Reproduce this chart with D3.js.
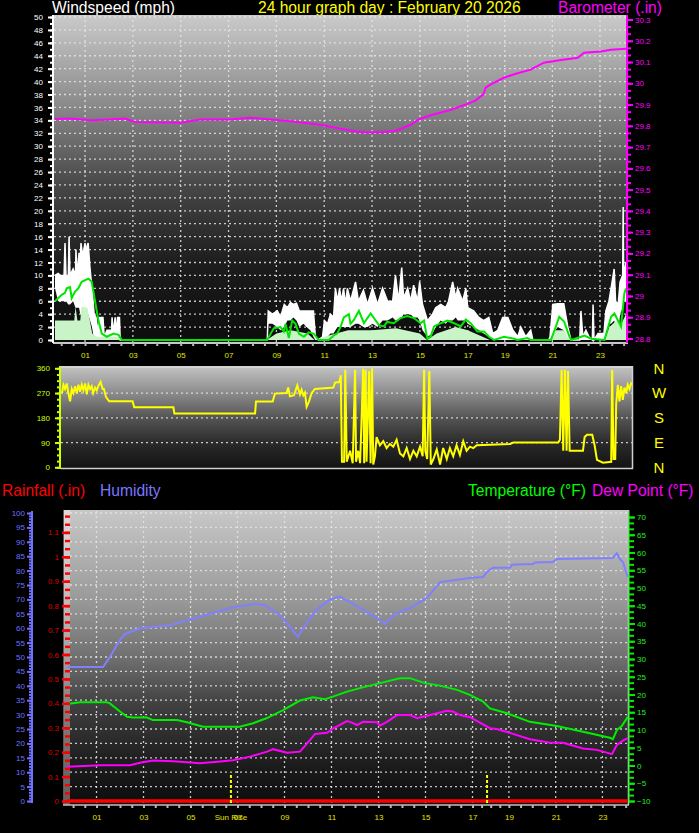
<!DOCTYPE html>
<html><head><meta charset="utf-8">
<script src="https://cdn.jsdelivr.net/npm/d3@7/dist/d3.min.js"></script>
<style>body{margin:0;background:#000;}svg{display:block;font-family:"Liberation Sans",Arial,sans-serif;}</style>
</head><body><svg id="c" width="699" height="833"></svg>
<script>
// ---------------- DATA ----------------
const titleDate = "24 hour graph day : February 20 2026";
const hourTicks = [1,3,5,7,9,11,13,15,17,19,21,23];
const hourLabels = ["01","03","05","07","09","11","13","15","17","19","21","23"];
// time axis knots (hours) – the record-based axis is compressed between 17 and 19
const timeKnots = [-0.26, 1, 17, 19, 23, 24.1];

// wind gust band [hour, low, high] (mph)
const windGust = [[-0.26,8,10],[-0.13,6,10.3],[-0.04,6,10],[0.12,6,10],[0.16,6,15],[0.2,6,10],[0.3,5.5,10],[0.33,5.5,16],[0.37,5.5,10],[0.5,6,11],[0.6,5,10],[0.62,5,14],[0.66,5,10],[0.75,5,13.5],[0.8,4,12],[0.83,4,15],[0.9,4,13],[1.0,4,15],[1.05,4,13],[1.08,4,14.5],[1.13,4,15],[1.21,3,11],[1.29,2,8],[1.38,0,4],[1.46,0,3.5],[1.55,0,1],[1.6,0,3.5],[1.75,0,3.5],[1.8,0,0.5],[1.92,0,1.5],[2.05,0,1.5],[2.1,0,0.5],[2.13,0,3.5],[2.18,0,1],[2.26,0,3.5],[2.3,0,1],[2.36,0,3.5],[2.44,0,3.5],[2.47,0,0],[8.62,0,0],[8.66,2.5,4.5],[8.83,2.5,4],[9.04,2,4.5],[9.17,1.5,3.5],[9.33,2,5.5],[9.46,3,5],[9.59,3,5.8],[9.71,3.5,5.5],[9.84,3,5.7],[9.96,2,4.5],[10.13,2.5,4.5],[10.26,2,4.5],[10.42,1.5,4.5],[10.55,0.5,4.5],[10.63,0,0.5],[10.76,0,0],[10.93,0,0.5],[11.01,0,3],[11.14,0.5,2.5],[11.26,1,4],[11.39,1,3.5],[11.47,1.5,8],[11.56,2,6],[11.64,2,8],[11.72,2,6],[11.81,2,8],[11.89,2,5.5],[11.97,2,8],[12.1,2,6],[12.31,2.5,9],[12.43,2.5,6],[12.64,2,7.7],[12.81,2,5.5],[13.02,2.5,8],[13.23,2,5.5],[13.44,3,8],[13.65,3,6],[13.86,3.5,6],[13.98,3,10],[14.11,3,6],[14.24,3.5,11.2],[14.32,4,6.5],[14.49,4,8],[14.61,4,6],[14.74,3.5,8.5],[14.9,3.5,6],[14.99,3,9],[15.11,1.5,5.5],[15.32,0.5,3],[15.53,1,4],[15.66,2,5],[15.87,3,5.5],[16.08,2.5,5],[16.2,3,6],[16.37,3,9],[16.5,3.5,6.5],[16.58,3,8],[16.79,3,6],[16.92,3,8],[17.0,2.5,5],[17.32,2,4.5],[17.6,1.5,3.5],[17.86,1,3],[18.14,0.5,3.5],[18.35,0,1],[18.62,0,1.5],[18.89,0,3.5],[19.13,0,3.5],[19.34,0,1.5],[19.55,0,0.5],[19.67,0,2],[19.88,0,0.5],[20.09,0,1.5],[20.18,0,0],[20.85,0,0],[20.9,0,0.5],[21.02,1,5.5],[21.23,2,5.6],[21.48,1.5,5.6],[21.65,0,2],[21.78,0,0],[22.15,0,0],[22.2,0,4.5],[22.28,0,0.5],[22.41,0,1.5],[22.54,0,0.5],[22.68,0,0],[22.71,0,5.5],[22.75,0,0],[22.92,0,1],[23.17,0,1],[23.25,1,4.5],[23.38,2.5,6],[23.47,2.5,8],[23.6,3,11],[23.66,2,6],[23.77,1,5.5],[23.85,4,9],[23.96,5,10],[23.98,5,20.6],[24.0,6,10],[24.1,6,12]];
// wind speed [hour, mph]
const windSpeed = [[-0.26,3],[0.55,3],[0.6,5.2],[0.68,3],[0.8,3],[0.85,5.2],[1.1,5],[1.2,3],[1.3,1],[1.5,0.5],[2.4,0.5],[2.5,0],[8.6,0],[8.8,0.5],[9.0,1],[9.6,1.5],[10.3,1],[10.6,0],[11.0,0.5],[11.5,1],[12,1.5],[13,1.5],[14,1.8],[15,1],[15.3,0],[15.7,1],[16.5,2],[17,1.5],[17.8,0.5],[18.2,0],[20.9,0],[21.1,1.5],[21.5,1.5],[21.7,0],[23.2,0],[23.4,2],[23.7,3],[23.9,2.5],[24.1,4]];
// average wind speed [hour, mph]
const windAvg = [[-0.26,6],[0.02,7],[0.16,7.3],[0.23,8],[0.37,8.2],[0.44,6.5],[0.58,7.5],[0.72,8],[0.86,9],[1.14,9.5],[1.28,9],[1.42,6],[1.56,3],[1.7,1],[1.91,0.5],[2.19,1],[2.4,0.8],[2.54,0],[8.61,0],[8.89,1.8],[9.17,2],[9.31,1.3],[9.38,2.5],[9.52,0.3],[9.66,3],[9.8,2.5],[9.94,1],[10.15,0.5],[10.35,1.2],[10.56,1],[10.77,0],[11.19,0],[11.4,0.7],[11.54,1],[11.68,2],[11.82,3.5],[12.03,4],[12.1,2.5],[12.24,3.1],[12.45,4.5],[12.66,2.6],[12.94,4.1],[13.29,2.3],[13.5,2.1],[13.63,2.8],[13.91,2.6],[14.19,3.4],[14.47,3.7],[14.75,3.4],[15.03,2.6],[15.17,3],[15.31,0.2],[15.45,0.5],[15.59,2.1],[15.87,2.6],[16.15,3],[16.43,2.6],[16.71,2.1],[16.92,3.2],[17.16,2.6],[17.52,1.3],[17.88,1.3],[18.15,0.5],[18.42,0],[18.96,0.5],[19.39,0.2],[19.53,0],[19.96,0.3],[20.09,0],[20.94,0],[21.15,2.1],[21.29,3.6],[21.5,2.8],[21.72,0.5],[21.79,0],[22.21,0.5],[22.35,0.7],[22.63,0.2],[23.19,0],[23.47,3.6],[23.61,4.1],[23.75,3.1],[23.89,2.1],[24.03,7.2],[24.1,8]];
// barometer [hour, in]
const barometer = [[-0.26,29.832],[0.37,29.835],[1.21,29.826],[2.05,29.83],[2.68,29.834],[3.09,29.818],[4.98,29.815],[5.82,29.83],[7.07,29.83],[7.91,29.838],[8.75,29.83],[9.59,29.822],[10.84,29.805],[11.68,29.786],[12.52,29.77],[13.36,29.77],[13.98,29.776],[14.61,29.805],[14.95,29.83],[15.45,29.85],[16.29,29.875],[16.92,29.9],[17.43,29.92],[17.86,29.95],[17.97,29.98],[18.24,29.995],[18.95,30.026],[19.46,30.045],[20.09,30.064],[20.64,30.097],[21.36,30.11],[22.07,30.12],[22.33,30.144],[23.04,30.15],[23.46,30.158],[24.1,30.163]];
// wind direction [hour, degrees]
const windDir = [[-0.26,270],[-0.2,300],[-0.13,285],[-0.06,305],[0.01,270],[0.08,240],[0.15,285],[0.22,270],[0.29,295],[0.36,270],[0.43,300],[0.5,275],[0.57,300],[0.64,280],[0.71,305],[0.78,265],[0.85,300],[0.92,285],[0.99,295],[1.05,270],[1.13,290],[1.2,280],[1.26,295],[1.36,310],[1.45,285],[1.5,285],[1.59,255],[1.72,240],[2.7,240],[2.77,218],[4.41,218],[4.45,196],[7.83,196],[7.87,239],[8.57,239],[8.66,268],[9.15,270],[9.22,290],[9.29,258],[9.46,262],[9.6,298],[9.71,265],[9.78,282],[9.85,262],[9.92,272],[9.99,220],[10.09,240],[10.2,270],[10.34,285],[11.11,290],[11.18,308],[11.36,310],[11.42,335],[11.47,20],[11.56,20],[11.61,355],[11.67,20],[11.81,60],[11.92,15],[12.02,355],[12.06,20],[12.15,60],[12.23,15],[12.36,358],[12.4,15],[12.46,355],[12.5,20],[12.61,350],[12.67,15],[12.73,360],[12.78,10],[12.85,40],[12.92,110],[13.06,80],[13.2,95],[13.34,70],[13.48,85],[13.62,75],[13.76,100],[13.9,50],[14.04,40],[14.18,70],[14.32,30],[14.46,60],[14.6,40],[14.74,75],[14.85,40],[14.91,355],[14.96,60],[15.04,30],[15.13,350],[15.19,10],[15.3,30],[15.44,65],[15.58,10],[15.71,70],[15.86,30],[15.99,70],[16.13,40],[16.27,80],[16.41,45],[16.55,95],[16.69,60],[16.83,75],[16.97,70],[17.15,80],[17.86,82],[18.95,85],[19.1,90],[20.99,90],[21.06,100],[21.13,355],[21.2,60],[21.27,355],[21.34,60],[21.4,350],[21.47,60],[22.03,60],[22.1,110],[22.2,118],[22.42,118],[22.52,80],[22.62,27],[22.87,17],[23.22,20],[23.26,355],[23.32,30],[23.39,30],[23.43,230],[23.5,300],[23.57,240],[23.64,295],[23.71,245],[23.78,290],[23.85,270],[23.92,300],[23.99,285],[24.06,305],[24.1,300]];
const dirTicks = [0,90,180,270,360];
const compass = ["N","E","S","W","N"];
// humidity [hour, %]
const humidity = [[-0.26,46.5],[1.28,46.5],[1.57,50],[2.0,56],[2.21,58],[2.85,60],[4.13,61],[5.4,64],[6.68,67],[7.74,68.5],[8.17,68],[8.81,64.5],[9.23,60.5],[9.57,57],[9.87,61],[10.3,66],[10.94,70],[11.36,71],[12.0,68],[12.64,65],[13.06,63],[13.28,61.5],[13.7,65],[14.34,67],[15.06,70.5],[15.62,76],[16.89,77.4],[17.58,77.8],[17.79,79.5],[18.12,81],[19.04,81],[19.13,82],[20.03,82.3],[20.11,82.8],[20.88,83],[21.05,84],[23.45,84.4],[23.62,86],[23.75,84],[23.88,83],[24.09,77.8]];
// temperature [hour, °F]
const temperature = [[-0.26,17.3],[0.3,17.8],[1.45,17.8],[1.57,17.5],[2.0,15.2],[2.3,13.7],[2.55,13.5],[3.15,13.5],[3.4,12.8],[4.43,12.8],[4.85,12.2],[5.53,10.9],[7.1,10.9],[7.66,11.9],[8.23,13.3],[8.94,15.6],[9.66,18.3],[10.21,19.2],[10.72,18.7],[11.06,19.4],[11.66,20.8],[12.21,21.8],[13.06,23.2],[13.91,24.6],[14.34,24.6],[14.98,23.2],[15.62,22.5],[16.34,21.3],[16.89,19.9],[17.58,18],[17.96,16.1],[18.9,14.7],[19.9,12.3],[21.05,11.1],[22.17,9.5],[23.32,7.8],[23.45,7.4],[23.62,10],[23.83,11.1],[24.09,13.7]];
// dew point [hour, °F]
const dewPoint = [[-0.26,-0.35],[1.15,0.1],[2.43,0.1],[2.85,0.8],[3.4,1.4],[4.26,1.2],[4.85,0.9],[5.4,0.6],[6.26,1.1],[6.81,1.5],[7.53,2.5],[8.26,3.9],[8.51,4.6],[9.11,3.6],[9.66,3.9],[10.09,7.2],[10.3,8.9],[10.81,9.2],[11.06,10.4],[11.66,12.5],[11.79,12.3],[12.09,11.4],[12.34,12.3],[12.94,12.2],[13.06,11.2],[13.36,12.3],[13.79,14.2],[14.34,14.2],[14.64,13.3],[15.19,14.2],[15.91,15.4],[16.17,15.2],[16.47,14.2],[16.89,13.6],[17.96,10.5],[18.34,10.3],[19.04,9.2],[19.9,7.4],[20.76,6.4],[21.31,6.4],[22.17,4.8],[22.77,4.4],[23.41,3.2],[23.62,5.8],[23.88,7],[24.09,7.7]];
// rainfall [hour, in]
const rainfall = [[-0.26,0],[3,0],[6,0],[9,0],[12,0],[15,0],[18,0],[21,0],[24.09,0]];
// sun events [hour, label]
const sunEvents = [[6.72,"Sun Rise"],[17.8,""]];

// ---------------- LAYOUT ----------------
const knotFrac = [0, 0.0526, 0.7228, 0.7877, 0.9544, 1];
function timeScale(x0, x1){ return d3.scaleLinear().domain(timeKnots).range(knotFrac.map(f => x0 + f*(x1-x0))); }
const xTop = timeScale(55, 626), xDir = timeScale(62, 632), xBot = timeScale(67, 628);
const windY = d3.scaleLinear().domain([0,50]).range([340,17]);
const baroY = d3.scaleLinear().domain([28.8,30.3]).range([338.5,19.5]);
const dirY = d3.scaleLinear().domain([0,360]).range([467.3,368.3]);
const humY = d3.scaleLinear().domain([0,100]).range([801,513]);
const rainY = d3.scaleLinear().domain([0,1.1]).range([801,532.4]);
const tempY = d3.scaleLinear().domain([-10,70]).range([801,517]);

const svg = d3.select("#c");
svg.append("rect").attr("width",699).attr("height",833).attr("fill","#000");
const defs = svg.append("defs");
function grad(id, stops){
  const g = defs.append("linearGradient").attr("id",id).attr("x1",0).attr("y1",0).attr("x2",0).attr("y2",1);
  stops.forEach(s => g.append("stop").attr("offset",s[0]).attr("stop-color",s[1]));
}
grad("gTop", [[0,"#cacaca"],[0.26,"#8e8e8e"],[0.52,"#474747"],[0.76,"#1c1c1c"],[1,"#0c0c0c"]]);
grad("gDir", [[0,"#c4c4c4"],[0.27,"#8a8a8a"],[0.5,"#555"],[0.75,"#2a2a2a"],[1,"#121212"]]);
grad("gBot", [[0,"#c8c8c8"],[0.3,"#9a9a9a"],[0.5,"#707070"],[0.66,"#404040"],[0.85,"#1e1e1e"],[1,"#0c0c0c"]]);

const FONT = 8;
const TITLE = 15.6;
function txt(x,y,s,fill,size,anchor){
  return svg.append("text").attr("x",x).attr("y",y).attr("fill",fill).attr("font-size",size||TITLE)
    .attr("text-anchor",anchor||"start").text(s);
}
function dotted(x1,y1,x2,y2){
  svg.append("line").attr("x1",x1).attr("y1",y1).attr("x2",x2).attr("y2",y2)
    .attr("stroke","#e6e6e6").attr("stroke-opacity",0.85).attr("stroke-width",1.3).attr("stroke-dasharray","2,3");
}
function styleAxis(g, color, labelColor, w){
  g.select(".domain").remove();
  g.selectAll("line").attr("stroke",color).attr("stroke-width",w||2);
  g.selectAll("text").attr("fill",labelColor||color).attr("font-size",FONT).attr("font-family","Liberation Sans, Arial, sans-serif");
  return g;
}
function vAxis(gen, x, scale, majors, minors, color, labelColor, fmt, majLen, minLen, pad, y0, y1){
  svg.append("line").attr("x1",x).attr("x2",x).attr("y1",y0).attr("y2",y1).attr("stroke",color).attr("stroke-width",2);
  styleAxis(svg.append("g").attr("transform",`translate(${x},0)`)
    .call(gen(scale).tickValues(minors).tickSize(minLen).tickFormat("")), color);
  styleAxis(svg.append("g").attr("transform",`translate(${x},0)`)
    .call(gen(scale).tickValues(majors).tickSize(majLen).tickPadding(pad).tickFormat(fmt)), color, labelColor);
}
function xLabels(scale, y, pad){
  const g = svg.append("g").attr("transform",`translate(0,${y})`)
    .call(d3.axisBottom(scale).tickValues(hourTicks).tickSize(0).tickPadding(pad).tickFormat((d,i)=>hourLabels[i]));
  styleAxis(g, "#000", "#e4e400");
  const m = svg.append("g").attr("transform",`translate(0,${y})`)
    .call(d3.axisBottom(scale).tickValues(d3.range(0,24.01,0.5)).tickSize(3).tickFormat(""));
  styleAxis(m, "#b8b8b8", null, 2);
}

// ---------------- TOP PANEL ----------------
txt(52,13,"Windspeed (mph)","#ffffff");
txt(258,13,titleDate,"#ffff00");
txt(558,13,"Barometer (.in)","#ff00ff");
svg.append("rect").attr("x",54).attr("y",15).attr("width",573).attr("height",328).attr("fill","url(#gTop)");
d3.range(2,51,2).forEach(v => dotted(54, windY(v), 627, windY(v)));
hourTicks.forEach(h => dotted(xTop(h), 15, xTop(h), 343));
svg.append("line").attr("x1",53).attr("x2",628).attr("y1",343).attr("y2",343).attr("stroke","#c8c8c8").attr("stroke-width",2);
xLabels(xTop, 343, 9.5);

svg.append("path").datum(windGust).attr("fill","#ffffff")
  .attr("d", d3.area().x(d=>xTop(d[0])).y0(d=>windY(d[1])).y1(d=>windY(d[2])));
svg.append("path").datum(windGust).attr("fill","none").attr("stroke","#ffffff").attr("stroke-width",1.5)
  .attr("d", d3.line().x(d=>xTop(d[0])).y(d=>windY(d[2])));
svg.append("path").datum(windSpeed).attr("fill","#c8f4c8")
  .attr("d", d3.area().x(d=>xTop(d[0])).y0(windY(0)).y1(d=>windY(d[1])));
svg.append("path").datum(windAvg).attr("fill","none").attr("stroke","#00e600").attr("stroke-width",2)
  .attr("d", d3.line().x(d=>xTop(d[0])).y(d=>windY(d[1])));
svg.append("path").datum(barometer).attr("fill","none").attr("stroke","#ff00ff").attr("stroke-width",2)
  .attr("d", d3.line().x(d=>xTop(d[0])).y(d=>baroY(d[1])));

vAxis(d3.axisLeft, 53, windY, d3.range(0,51,2), d3.range(0,51,1), "#ffffff", "#ffffff", d3.format("d"), 5, 3, 5, 15, 343);
vAxis(d3.axisRight, 627, baroY, d3.range(28.8,30.31,0.1).map(v=>+v.toFixed(1)), d3.range(0,46).map(i=>+(28.8+i/30).toFixed(4)), "#ff00ff", "#ff00ff", d3.format(".1~f"), 6, 4, 2, 15, 343);

// ---------------- WIND DIRECTION PANEL ----------------
svg.append("rect").attr("x",61).attr("y",366).attr("width",572).attr("height",103).attr("fill","url(#gDir)");
[90,180,270].forEach(v => dotted(61, dirY(v), 632, dirY(v)));
svg.append("line").attr("x1",61).attr("x2",633).attr("y1",367).attr("y2",367).attr("stroke","#d8d8d8").attr("stroke-width",1.5);
svg.append("line").attr("x1",61).attr("x2",633).attr("y1",468.5).attr("y2",468.5).attr("stroke","#d0d0d0").attr("stroke-width",1.5);
svg.append("line").attr("x1",632.5).attr("x2",632.5).attr("y1",366).attr("y2",469).attr("stroke","#d0d0d0").attr("stroke-width",1.5);
svg.append("path").datum(windDir).attr("fill","none").attr("stroke","#ffff00").attr("stroke-width",2)
  .attr("d", d3.line().x(d=>xDir(d[0])).y(d=>dirY(d[1])));
vAxis(d3.axisLeft, 60, dirY, dirTicks, d3.range(0,361,22.5), "#ccff00", "#ccff00", d3.format("d"), 5, 3, 5, 366, 469);
svg.append("g").selectAll("text").data(dirTicks).join("text")
  .attr("x",659).attr("y",d=>dirY(d)).attr("dy","0.36em").attr("text-anchor","middle")
  .attr("fill","#ffff00").attr("font-size",15).text((d,i)=>compass[i]);

// ---------------- BOTTOM PANEL ----------------
txt(2,496,"Rainfall (.in)","#ff0000");
txt(100,496,"Humidity","#7878ff");
txt(468,496,"Temperature (°F)","#00ff00");
txt(592,496,"Dew Point (°F)","#ff00ff");
svg.append("rect").attr("x",64).attr("y",510).attr("width",565).attr("height",295).attr("fill","url(#gBot)");
svg.append("rect").attr("x",63).attr("y",510).attr("width",7).attr("height",295).attr("fill","#ffffff").attr("fill-opacity",0.35);
d3.range(5,101,5).forEach(v => dotted(70, humY(v), 628, humY(v)));
hourTicks.forEach(h => dotted(xBot(h), 511, xBot(h), 803));
svg.append("line").attr("x1",63).attr("x2",629).attr("y1",805).attr("y2",805).attr("stroke","#c0c0c0").attr("stroke-width",1.5);
svg.append("line").attr("x1",628.5).attr("x2",628.5).attr("y1",510).attr("y2",805).attr("stroke","#d0d0d0").attr("stroke-width",1.5);
xLabels(xBot, 805, 9.5);

svg.append("path").datum(humidity).attr("fill","none").attr("stroke","#8080ff").attr("stroke-width",2)
  .attr("d", d3.line().x(d=>xBot(d[0])).y(d=>humY(d[1])));
svg.append("path").datum(temperature).attr("fill","none").attr("stroke","#00ee00").attr("stroke-width",2)
  .attr("d", d3.line().x(d=>xBot(d[0])).y(d=>tempY(d[1])));
svg.append("path").datum(dewPoint).attr("fill","none").attr("stroke","#ff00ff").attr("stroke-width",2)
  .attr("d", d3.line().x(d=>xBot(d[0])).y(d=>tempY(d[1])));
svg.append("path").datum(rainfall).attr("fill","none").attr("stroke","#ff0000").attr("stroke-width",3.5)
  .attr("d", d3.line().x(d=>xBot(d[0])).y(d=>rainY(d[1])));

sunEvents.forEach(e => {
  svg.append("line").attr("x1",xBot(e[0])).attr("x2",xBot(e[0])).attr("y1",775).attr("y2",803)
    .attr("stroke","#ffff00").attr("stroke-width",2).attr("stroke-dasharray","3,2");
  if (e[1]) txt(xBot(e[0]), 820, e[1], "#e4e400", FONT, "middle");
});

// humidity axis
vAxis(d3.axisLeft, 32, humY, d3.range(0,101,5), d3.range(0,101,1), "#7070ff", "#7070ff", d3.format("d"), 5, 3, 2, 511, 803);
// rainfall axis (dashed red ticks)
styleAxis(svg.append("g").attr("transform","translate(70,0)")
  .call(d3.axisLeft(rainY).tickValues(d3.range(0,36).map(i=>i/30)).tickSize(5).tickFormat("")), "#ff0000", null, 2.5);
styleAxis(svg.append("g").attr("transform","translate(70,0)")
  .call(d3.axisLeft(rainY).tickValues(d3.range(0,12).map(i=>+(i/10).toFixed(1))).tickSize(8).tickPadding(3).tickFormat(d3.format(".1~f"))), "#ff0000", "#dd0000", 2.5);
// temperature axis
svg.append("line").attr("x1",629).attr("x2",629).attr("y1",511).attr("y2",803).attr("stroke","#00ee00").attr("stroke-width",1);
styleAxis(svg.append("g").attr("transform","translate(629,0)")
  .call(d3.axisRight(tempY).tickValues(d3.range(0,49).map(i=>-10+i*5/3)).tickSize(5).tickFormat("")), "#00ee00");
styleAxis(svg.append("g").attr("transform","translate(629,0)")
  .call(d3.axisRight(tempY).tickValues(d3.range(-10,71,5)).tickSize(6).tickPadding(2).tickFormat(d3.format("d"))), "#00ee00", "#22ee22");
</script></body></html>
